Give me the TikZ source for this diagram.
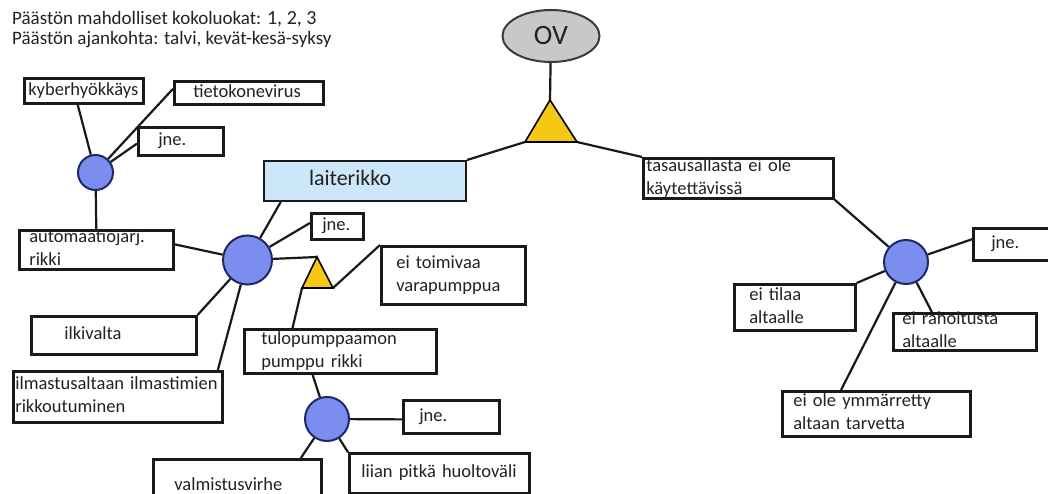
\documentclass[tikz,border=0pt]{standalone}
\usepackage{fontspec}
\setmainfont{Carlito}
\usetikzlibrary{positioning,shapes.geometric}
\hyphenpenalty=10000
\definecolor{boxline}{HTML}{1A1A1A}
\definecolor{txt}{HTML}{222222}
\definecolor{orfill}{HTML}{7C8DF0}
\definecolor{ordraw}{HTML}{1E2868}
\definecolor{andfill}{HTML}{F4C814}
\definecolor{topfill}{HTML}{C8C8C8}
\definecolor{topdraw}{HTML}{3A3A3A}
\definecolor{mainfill}{HTML}{CDE7FA}
\tikzset{
    cause/.style={
        rectangle,
        draw=boxline,
        line width=2.6pt,
        fill=white,
        anchor=north west,
        inner sep=0pt,
        align=left,
        text=txt,
        font=\fontsize{18.5}{23}\selectfont,
    },
    oneline/.style={
        text height=8.6pt,
        text depth=0pt,
    },
    twoline/.style={
        text height=0pt,
        text depth=14.4pt,
    },
    orgate/.style={
        circle,
        draw=ordraw,
        line width=2pt,
        fill=orfill,
        inner sep=0pt,
    },
    andgate/.style={
        draw=black,
        line width=1.6pt,
        fill=andfill,
        line join=miter,
    },
    event/.style={
        ellipse,
        draw=topdraw,
        line width=2pt,
        fill=topfill,
        minimum width=97pt,
        minimum height=52pt,
        inner sep=0pt,
        text=txt,
        font=\fontsize{28}{30}\selectfont,
    },
    head/.style={
        anchor=base west,
        inner sep=0pt,
        text=txt,
        font=\fontsize{19}{20}\selectfont,
    },
    every edge/.style={
        draw=black!90,
        line width=2.2pt,
    },
    x=1pt,
    y=-1pt,
}
\begin{document}
\begin{tikzpicture}
                        \useasboundingbox (0,0) rectangle (1048,494);
                        % otsikko
                        \node[head] (Hdr1) at (12,25) {Päästön mahdolliset kokoluokat: {\fontsize{20}{20}\selectfont 1, 2, 3}};
                        \node[head] (Hdr2) at (12,45) {Päästön ajankohta: talvi, kevät-kesä-syksy};
                        % huippu
                        \node[event] (OV) at (551,36) {OV};
                        \coordinate (T1) at (550,100);
                        \coordinate (T1l) at (525,142);
                        \coordinate (T1r) at (577,142);
                        \node[cause, oneline, fill=mainfill, line width=2pt, font=\fontsize{22}{26}\selectfont, minimum width=202pt, minimum height=40pt, text width=112pt] (Laite) at (263,160) {laiterikko};
                        \node[cause, twoline, minimum width=190pt, minimum height=40pt, text width=184pt] (Tasaus) at (642,157) {tasausallasta ei ole\\käytettävissä};
                        % vasen ylä
                        \node[cause, oneline, minimum width=119pt, minimum height=25pt, text width=111pt] (Kyber) at (23,77) {kyberhyökkäys};
                        \node[cause, oneline, minimum width=149pt, minimum height=23pt, text width=111pt] (Virus) at (173,80) {tietokonevirus};
                        \node[cause, oneline, minimum width=85pt, minimum height=28pt, text width=45pt] (Jne1) at (137,126) {jne.};
                        \node[orgate, minimum size=35pt] (C1) at (95.5,172.5) {};
                        \node[cause, twoline, minimum width=154pt, minimum height=39pt, text width=134pt] (Auto) at (18,229) {automaatiojärj.\\rikki};
                        % laiterikko
                        \node[orgate, minimum size=49pt] (C2) at (247.5,260) {};
                        \node[cause, oneline, minimum width=52pt, minimum height=26pt, text width=30pt] (Jne2) at (310,212) {jne.};
                        \node[cause, oneline, minimum width=165pt, minimum height=38pt, text width=99pt] (Ilki) at (30,315) {ilkivalta};
                        \node[cause, twoline, minimum width=209pt, minimum height=51pt, text width=205pt] (Ilma) at (12,370) {ilmastusaltaan ilmastimien\\rikkoutuminen};
                        \coordinate (T2) at (317,257);
                        \coordinate (T2l) at (302,288);
                        \coordinate (T2r) at (333,288);
                        \node[cause, twoline, minimum width=144pt, minimum height=58pt, text width=114pt] (Vara) at (380,245) {ei toimivaa\\varapumppua};
                        \node[cause, twoline, minimum width=192pt, minimum height=44pt, text width=158pt] (Tulo) at (243,328) {tulopumppaamon\\pumppu rikki};
                        \node[orgate, minimum size=44pt] (C3) at (327,419) {};
                        \node[cause, oneline, minimum width=96pt, minimum height=33pt, text width=64pt] (Jne3) at (402,399) {jne.};
                        \node[cause, oneline, minimum width=168pt, minimum height=54pt, text width=126pt] (Valm) at (152,458) {valmistusvirhe};
                        \node[cause, oneline, minimum width=180pt, minimum height=40pt, text width=156pt] (Huolto) at (348,452) {liian pitkä huoltoväli};
                        % tasausallas
                        \node[orgate, minimum size=44pt] (C4) at (906,262) {};
                        \node[cause, oneline, minimum width=80pt, minimum height=32pt, text width=44pt] (Jne4) at (972,227) {jne.};
                        \node[cause, twoline, minimum width=121pt, minimum height=46pt, text width=91pt] (Tila) at (733,283) {ei tilaa\\altaalle};
                        \node[cause, twoline, minimum width=143pt, minimum height=37pt, text width=125pt] (Raha) at (892,312) {ei rahoitusta\\altaalle};
                        \node[cause, twoline, minimum width=188pt, minimum height=45pt, text width=166pt] (Tarve) at (781,390) {ei ole ymmärretty\\altaan tarvetta};
                        % viivat
                        \draw (OV) edge (T1);
                        \draw (T1l) edge (Laite.north east);
                        \draw (T1r) edge (Tasaus.north west);
                        \draw (C1) edge (Kyber.246);
                        \draw (C1) edge (Virus.177);
                        \draw (C1) edge (Jne1.183);
                        \draw (C1) edge (Auto.north);
                        \draw (Auto.4) edge (C2);
                        \draw (C2) edge (Laite.194);
                        \draw (C2) edge (Jne2.173);
                        \draw (C2) edge (T2);
                        \draw (C2) edge (Ilki.north east);
                        \draw (C2) edge (Ilma.15);
                        \draw (T2r) edge (Vara.north west);
                        \draw (T2l) edge (Tulo.154);
                        \draw (Tulo.220) edge (C3);
                        \draw (C3) edge (Jne3.183);
                        \draw (C3) edge (Valm.24);
                        \draw (C3) edge (Huolto.167);
                        \draw (Tasaus.south east) edge (C4);
                        \draw (C4) edge (Jne4.173);
                        \draw (C4) edge (Tila.north east);
                        \draw (C4) edge (Raha.149);
                        \draw (C4) edge (Tarve.146);
                        % portit
                        \filldraw[andgate] (T1) -- (T1l) -- (T1r) -- cycle;
                        \filldraw[andgate] (T2) -- (T2l) -- (T2r) -- cycle;
\end{tikzpicture}
\end{document}
